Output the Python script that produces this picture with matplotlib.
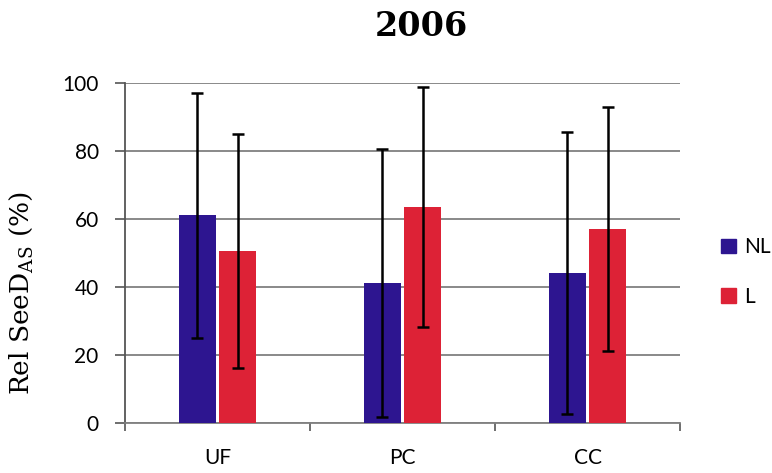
import matplotlib
matplotlib.use("Agg")
import matplotlib.pyplot as plt
import numpy as np
from matplotlib.patches import Patch

categories = ["UF", "PC", "CC"]
series_names = ["NL", "L"]
nl_values = [61, 41.2, 44]
l_values = [50.5, 63.5, 56.9]
nl_err = [36, 39.4, 41.5]
l_err = [34.5, 35.4, 35.9]
yticks = [0, 20, 40, 60, 80, 100]

nl_color = "#2D1590"
l_color = "#DD2236"

plt.rcParams["mathtext.fontset"] = "custom"
plt.rcParams["mathtext.rm"] = "DejaVu Serif"

fig = plt.figure(figsize=(7.72, 4.73), dpi=100)
ax = fig.add_axes([0.162, 0.106, 0.719, 0.719])

x = np.arange(len(categories))
w = 0.2
off = 0.11
ax.bar(x - off, nl_values, w, color=nl_color, zorder=3)
ax.bar(x + off, l_values, w, color=l_color, zorder=3)
ax.errorbar(x - off, nl_values, yerr=nl_err, fmt="none", ecolor="black",
            elinewidth=1.8, capsize=4, capthick=1.8, zorder=4)
ax.errorbar(x + off, l_values, yerr=l_err, fmt="none", ecolor="black",
            elinewidth=1.8, capsize=4, capthick=1.8, zorder=4)

ax.set_xlim(-0.5, len(categories) - 0.5)
ax.set_ylim(0, 100)
ax.set_yticks(yticks)
ax.set_yticklabels([str(t) for t in yticks], fontfamily="Lato", fontsize=15)
ax.set_xticks(x)
ax.set_xticklabels(categories, fontfamily="Lato", fontsize=15)
ax.tick_params(axis="x", which="major", length=0, pad=18)
ax.set_xticks(np.arange(-0.5, len(categories)), minor=True)
ax.tick_params(axis="x", which="minor", length=6, width=1.2, color="#555555")
ax.tick_params(axis="y", length=7, width=1.2, color="#555555", pad=12)

ax.yaxis.grid(True, color="#808080", linewidth=1.3, zorder=0)
ax.set_axisbelow(True)
for s in ["top", "right"]:
    ax.spines[s].set_visible(False)
ax.spines["left"].set_color("#555555")
ax.spines["left"].set_linewidth(1.3)
ax.spines["bottom"].set_color("#808080")
ax.spines["bottom"].set_linewidth(1.3)

ax.set_ylabel(r"Rel SeeD$_{\mathrm{AS}}$ (%)", fontfamily="DejaVu Serif",
              fontsize=19)
ax.yaxis.set_label_coords(-0.163, 0.38)

fig.text(0.546, 0.944, "2006", ha="center", va="center",
         fontfamily="DejaVu Serif", fontweight="bold", fontsize=24)

handles = [Patch(color=nl_color, label=series_names[0]),
           Patch(color=l_color, label=series_names[1])]
fig.legend(handles=handles, loc="center left", bbox_to_anchor=(0.91, 0.425),
           frameon=False, handlelength=0.7, handleheight=0.7,
           handletextpad=0.4, labelspacing=1.4,
           prop={"family": "Lato", "size": 15})

fig.savefig("out.png", dpi=100, facecolor="white")
